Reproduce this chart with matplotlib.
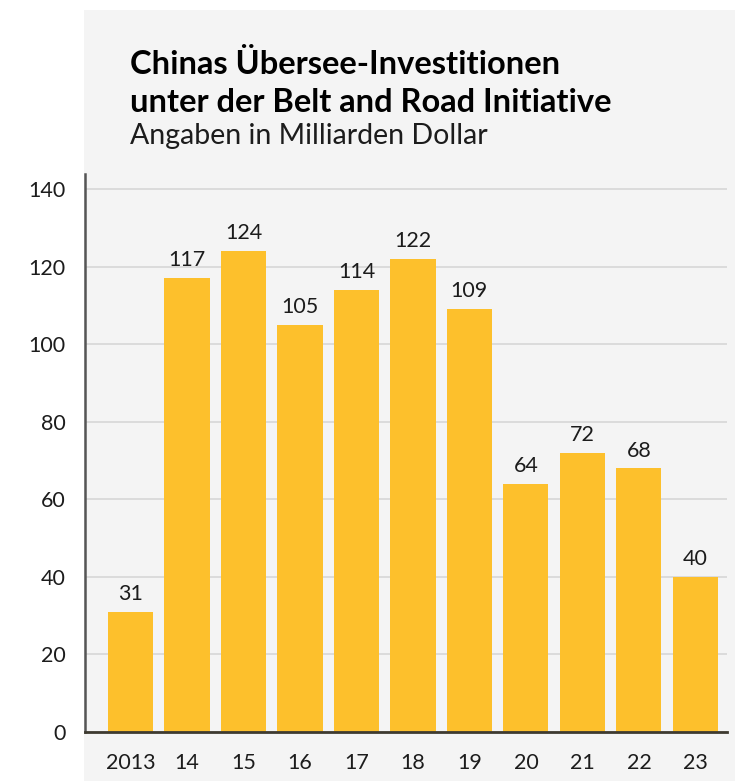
import matplotlib.pyplot as plt
from matplotlib.patches import Rectangle

years = ["2013", "14", "15", "16", "17", "18", "19", "20", "21", "22", "23"]
investments = [31, 117, 124, 105, 114, 122, 109, 64, 72, 68, 40]
y_ticks = [0, 20, 40, 60, 80, 100, 120, 140]

title_lines = ["Chinas Übersee-Investitionen", "unter der Belt and Road Initiative"]
subtitle = "Angaben in Milliarden Dollar"

BAR_COLOR = "#fdc02c"
PANEL_COLOR = "#f4f4f4"
TEXT_COLOR = "#1c1c1c"

plt.rcParams["font.family"] = ["Lato", "DejaVu Sans"]

W, H = 735, 781
fig = plt.figure(figsize=(W / 100, H / 100), dpi=100)
fig.patch.set_facecolor("white")

# grey panel behind title and plot, left part stays white
fig.patches.append(Rectangle((84 / W, 0), (W - 84) / W, (H - 10) / H,
                             transform=fig.transFigure, facecolor=PANEL_COLOR,
                             edgecolor="none", zorder=-1))

ax = fig.add_axes([85 / W, 1 - 732 / H, (727 - 85) / W, (732 - 174) / H])
ax.set_facecolor("none")

x = list(range(len(years)))
ax.bar(x, investments, width=0.8, color=BAR_COLOR, zorder=2)
for xi, v in zip(x, investments):
    ax.text(xi, v + 2.0, str(v), ha="center", va="bottom", fontsize=15.5,
            color=TEXT_COLOR, zorder=3)

ax.set_xlim(-0.805, 10.56)
ax.set_ylim(0, 140 * (732 - 174) / (732 - 189))
ax.set_yticks(y_ticks)
ax.set_yticklabels([str(t) for t in y_ticks])
ax.set_xticks(x)
ax.set_xticklabels(years)

ax.grid(axis="y", color="#d6d6d6", linewidth=1.2, zorder=1)
ax.set_axisbelow(True)
ax.tick_params(axis="both", length=0, labelsize=15.5, colors=TEXT_COLOR)
ax.tick_params(axis="y", pad=14)
ax.tick_params(axis="x", pad=15)

for side in ["top", "right"]:
    ax.spines[side].set_visible(False)
ax.spines["left"].set_color("#555555")
ax.spines["left"].set_linewidth(1.8)
ax.spines["bottom"].set_color("#3e3a30")
ax.spines["bottom"].set_linewidth(2)
ax.spines["bottom"].set_zorder(4)

for line, base in zip(title_lines, [74, 112]):
    fig.text(130 / W, 1 - base / H, line, ha="left", va="baseline",
             fontsize=23.5, fontweight="bold", color="black")
fig.text(130 / W, 1 - 144 / H, subtitle, ha="left", va="baseline", fontsize=20.5,
         color=TEXT_COLOR)

fig.savefig("out.png", dpi=100, facecolor=fig.get_facecolor())
